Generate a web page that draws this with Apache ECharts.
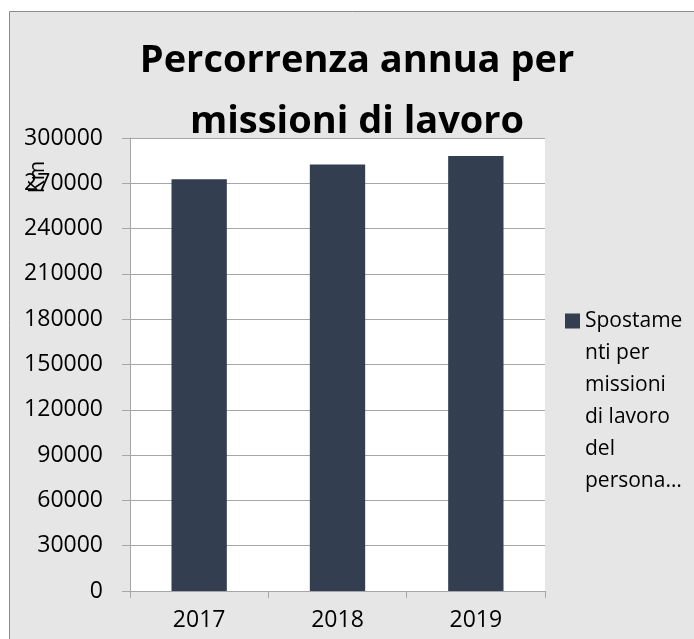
<!DOCTYPE html>
<html>
<head>
<meta charset="utf-8">
<title>Percorrenza annua per missioni di lavoro</title>
<script src="https://cdn.jsdelivr.net/npm/echarts@6/dist/echarts.min.js"></script>
<style>
  html, body { margin: 0; padding: 0; background: #ffffff; }
  #chart { width: 694px; height: 639px; }
</style>
</head>
<body>
<div id="chart"></div>
<script>
// Annual distance travelled (km) for staff business trips
const years = ['2017', '2018', '2019'];
const kmValues = [272600, 282500, 288000];
const seriesName = 'Spostamenti per missioni di lavoro del personale';
const legendLines = ['Spostame', 'nti per', 'missioni', 'di lavoro', 'del', 'persona\u2026'];
const yMin = 0;
const yMax = 300000;
const yStep = 30000;

const FONT = '"Open Sans", "Noto Sans", sans-serif';
const LEGEND_LINE = 32;
const LEGEND_BLOCK = LEGEND_LINE * legendLines.length;

// Legend marker: a 15px square beside the first text line; the extra moveTo
// stretches the marker's box to the height of the wrapped label block.
const legendIcon = 'path://M0,0 M0,8.5 L15,8.5 L15,23.5 L0,23.5 Z M0,' + LEGEND_BLOCK;

const chart = echarts.init(document.getElementById('chart'), null, { renderer: 'canvas' });

chart.setOption({
  backgroundColor: '#ffffff',
  animation: false,
  graphic: [
    {
      type: 'rect',
      z: -10,
      silent: true,
      shape: { x: 9.5, y: 11.5, width: 720, height: 700 },
      style: { fill: '#e6e6e6', stroke: '#8c8c8c', lineWidth: 1 }
    },
    {
      type: 'text',
      x: 38,
      y: 177,
      z: 20,
      rotation: Math.PI / 2,
      style: {
        text: 'Km',
        font: '21px ' + FONT,
        fill: '#000000',
        align: 'center',
        verticalAlign: 'middle'
      }
    }
  ],
  title: {
    text: 'Percorrenza annua per\nmissioni di lavoro',
    left: 352,
    top: 26,
    z: 20,
    textAlign: 'center',
    textStyle: {
      fontFamily: FONT,
      fontWeight: 'bold',
      fontSize: 38,
      lineHeight: 61,
      color: '#000000'
    }
  },
  legend: {
    left: 565,
    top: 305,
    padding: 0,
    orient: 'vertical',
    icon: legendIcon,
    itemWidth: 15,
    itemHeight: LEGEND_BLOCK,
    itemGap: 0,
    selectedMode: false,
    formatter: function () { return legendLines.join('\n'); },
    textStyle: {
      fontFamily: FONT,
      fontSize: 21,
      lineHeight: LEGEND_LINE,
      color: '#000000'
    }
  },
  grid: {
    left: 130,
    right: 149,
    top: 138,
    bottom: 48,
    show: true,
    backgroundColor: '#ffffff',
    borderWidth: 0
  },
  xAxis: {
    type: 'category',
    data: years,
    boundaryGap: true,
    axisLine: { show: true, lineStyle: { color: '#a6a6a6', width: 1 } },
    axisTick: { show: true, alignWithLabel: false, length: 7, lineStyle: { color: '#a6a6a6' } },
    axisLabel: { fontFamily: FONT, fontSize: 23, color: '#000000', margin: 18 },
    splitLine: { show: false }
  },
  yAxis: {
    type: 'value',
    min: yMin,
    max: yMax,
    interval: yStep,
    axisLine: { show: true, lineStyle: { color: '#a6a6a6', width: 1 } },
    axisTick: { show: true, inside: false, length: 8, lineStyle: { color: '#a6a6a6' } },
    axisLabel: {
      fontFamily: FONT,
      fontSize: 23,
      color: '#000000',
      margin: 27,
      formatter: function (v) { return String(v); }
    },
    splitLine: { show: true, lineStyle: { color: '#a6a6a6', width: 1 } }
  },
  series: [
    {
      name: seriesName,
      type: 'bar',
      data: kmValues,
      barWidth: '40%',
      itemStyle: { color: '#333f50' }
    }
  ]
});
</script>
</body>
</html>
